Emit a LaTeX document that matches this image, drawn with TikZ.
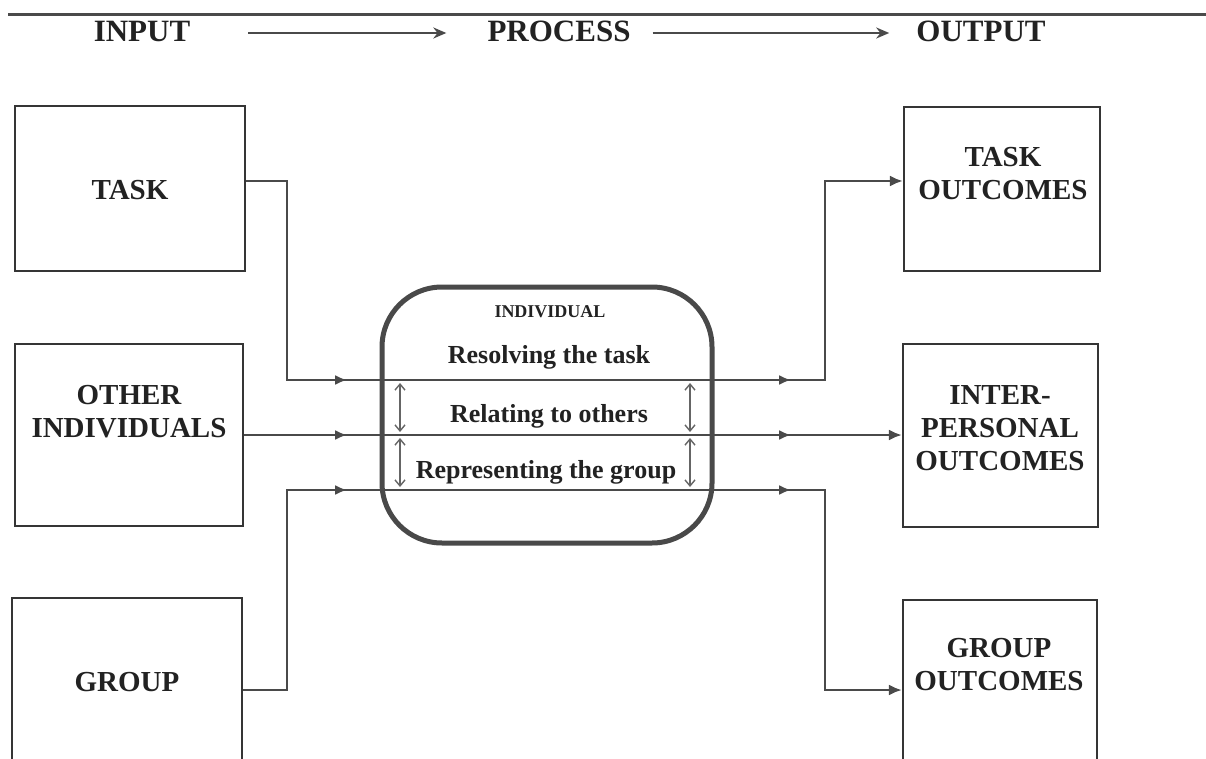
\documentclass[tikz,border=0pt]{standalone}
\usepackage{fontspec}
\setmainfont{Liberation Serif}
\usetikzlibrary{arrows.meta,decorations.markings}
\definecolor{linegray}{HTML}{4A4A4A}
\definecolor{boxgray}{HTML}{353535}
\definecolor{txtgray}{HTML}{222222}

\begin{document}
\begin{tikzpicture}[
x = 1pt, y = -1pt,
inbox/.style={rectangle, draw = boxgray, line width = 2.2pt, inner sep = 0pt},
indivbox/.style={rectangle, draw = boxgray!90, line width = 5pt, rounded corners = 60pt,
minimum width = 330pt, minimum height = 256pt},
hdr/.style={font = \fontsize{31}{36}\selectfont\bfseries, text = txtgray, inner sep = 0pt},
boxtxt/.style={font = \fontsize{29}{33}\selectfont\bfseries, text = txtgray, align = center, inner sep = 0pt},
proctxt/.style={font = \fontsize{26}{30}\selectfont\bfseries, text = txtgray, inner sep = 0pt, anchor = base},
smalltxt/.style={font = \fontsize{18}{22}\selectfont\bfseries, text = txtgray, inner sep = 0pt, anchor = base},
conn/.style={draw = linegray, line width = 2.5pt},
hdrarr/.style={conn, -{Stealth[length = 13pt, width = 11pt]}},
endarr/.style={-{Latex[length = 13pt, width = 11pt]}},
tipat/.style={postaction = {decorate, decoration = {markings,
mark = at position #1 with {\arrow{Latex[length = 12pt, width = 10pt]}}}}},
dbl/.style={draw = linegray!85, line width = 1.4pt,
{Straight Barb[length = 6pt, width = 10pt]}-{Straight Barb[length = 6pt, width = 10pt]},
shorten <= 3pt, shorten >= 3pt}]

\clip (0,0) rectangle (1206,759);
\fill[white] (0,0) rectangle (1206,759);

% header row
\coordinate (ruleL) at (8,15);
\coordinate (ruleR) at (1206,15);
\draw[conn, line width = 3pt] (ruleL) -- (ruleR);
\node[hdr] (hIn) at (142,31) {INPUT};
\node[hdr] (hProc) at (559,31) {PROCESS};
\node[hdr] (hOut) at (981,31) {OUTPUT};
\draw[hdrarr] ([xshift = 58pt, yshift = -2pt]hIn.east) -- ([xshift = -41pt, yshift = -2pt]hProc.west);
\draw[hdrarr] ([xshift = 22pt, yshift = -2pt]hProc.east) -- ([xshift = -27pt, yshift = -2pt]hOut.west);

% input boxes
\node[inbox, minimum width = 230pt, minimum height = 165pt] (task) at (130,188.5) {};
\node[boxtxt] (taskT) at (130,190) {TASK};
\node[inbox, minimum width = 228pt, minimum height = 182pt] (others) at (129,435) {};
\node[boxtxt] (othersT) at (129,411.5) {OTHER\\INDIVIDUALS};
\node[inbox, minimum width = 230pt, minimum height = 202pt] (group) at (127,699) {};
\node[boxtxt] (groupT) at (127,682) {GROUP};

% output boxes
\node[inbox, minimum width = 196pt, minimum height = 164pt] (tout) at (1002,189) {};
\node[boxtxt] (toutT) at (1003,174) {TASK\\OUTCOMES};
\node[inbox, minimum width = 195pt, minimum height = 183pt] (iout) at (1000.5,435.5) {};
\node[boxtxt] (ioutT) at (1000,428.5) {INTER-\\PERSONAL\\OUTCOMES};
\node[inbox, minimum width = 194pt, minimum height = 200pt] (gout) at (1000,700) {};
\node[boxtxt] (goutT) at (999,665) {GROUP\\OUTCOMES};

% process box
\node[indivbox] (indiv) at (547,415) {};
\node[smalltxt] (indivT) at (550,317) {INDIVIDUAL};
\node[proctxt] (resolve) at (549,363) {Resolving the task};
\node[proctxt] (relate) at (549,422) {Relating to others};
\node[proctxt] (repr) at (546,478) {Representing the group};

% connectors
\coordinate (yT) at (0,181);
\coordinate (yG) at (0,690);
\coordinate (lvA) at (287,380);
\coordinate (lvB) at (287,435);
\coordinate (lvC) at (287,490);
\coordinate (rvA) at (825,380);
\coordinate (rvC) at (825,490);
\draw[conn, tipat = 300pt, tipat = 744pt, endarr] (task.east |- yT) -| (lvA) -- (rvA) |- (tout.west |- yT);
\draw[conn, tipat = 103pt, tipat = 547pt, endarr] (others.east) -- (others.east -| iout.west);
\draw[conn, tipat = 304pt, tipat = 748pt, endarr] (group.east |- yG) -| (lvC) -- (rvC) |- (gout.west |- yG);

% two-way links inside the individual
\coordinate (dL) at (400,0);
\coordinate (dR) at (690,0);
\draw[dbl] (dL |- lvA) -- (dL |- lvB);
\draw[dbl] (dL |- lvB) -- (dL |- lvC);
\draw[dbl] (dR |- lvA) -- (dR |- lvB);
\draw[dbl] (dR |- lvB) -- (dR |- lvC);

\end{tikzpicture}
\end{document}
